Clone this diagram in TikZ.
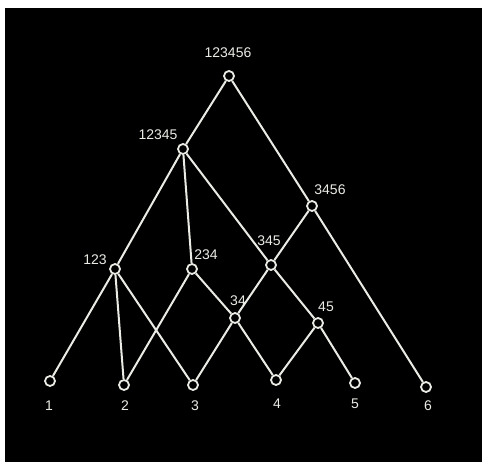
\documentclass[tikz,border=0pt]{standalone}
\usepackage{fontspec}
\setmainfont{Liberation Sans}
\definecolor{chalk}{RGB}{235,235,230}
\tikzset{
  vtx/.style={circle,draw=chalk,fill=black,line width=1.8pt,minimum size=10pt,inner sep=0pt},
  lbl/.style={text=chalk,font=\fontsize{14}{14}\selectfont,inner sep=0pt},
  edge/.style={draw=chalk,line width=2pt}
}
\begin{document}
\begin{tikzpicture}[x=1pt,y=-1pt]
\useasboundingbox (0,0) rectangle (482,462);
\fill[white] (0,0) rectangle (482,462);
\fill[black] (5,8) rectangle (482,462);
% nodes
\node[vtx] (r) at (229,76) {};
\node[vtx] (a) at (183,149) {};
\node[vtx] (b) at (312,206) {};
\node[vtx] (c) at (115,269) {};
\node[vtx] (d) at (192,269) {};
\node[vtx] (e) at (271,265) {};
\node[vtx] (f) at (235,318) {};
\node[vtx] (g) at (318,323) {};
\node[vtx] (l1) at (50,381) {};
\node[vtx] (l2) at (124,385) {};
\node[vtx] (l3) at (193,385) {};
\node[vtx] (l4) at (276,380) {};
\node[vtx] (l5) at (355,383) {};
\node[vtx] (l6) at (426,387) {};
% labels
\node[lbl] (tr) at (228,53) {123456};
\node[lbl] (ta) at (158,135) {12345};
\node[lbl] (tb) at (330,190) {3456};
\node[lbl] (tc) at (95,260) {123};
\node[lbl] (td) at (206,255) {234};
\node[lbl] (te) at (269,241) {345};
\node[lbl] (tf) at (238,301) {34};
\node[lbl] (tg) at (326,307) {45};
\node[lbl] (t1) at (49,406) {1};
\node[lbl] (t2) at (125,406) {2};
\node[lbl] (t3) at (195,406) {3};
\node[lbl] (t4) at (277,404) {4};
\node[lbl] (t5) at (355,404) {5};
\node[lbl] (t6) at (428,406) {6};
% edges
\path[edge] (r) -- (a);
\path[edge] (r) -- (b);
\path[edge] (a) -- (c);
\path[edge] (a) -- (d);
\path[edge] (a) -- (e);
\path[edge] (b) -- (e);
\path[edge] (b) -- (l6);
\path[edge] (c) -- (l1);
\path[edge] (c) -- (l2);
\path[edge] (c) -- (l3);
\path[edge] (d) -- (l2);
\path[edge] (d) -- (f);
\path[edge] (e) -- (f);
\path[edge] (e) -- (g);
\path[edge] (f) -- (l3);
\path[edge] (f) -- (l4);
\path[edge] (g) -- (l4);
\path[edge] (g) -- (l5);
\end{tikzpicture}
\end{document}
